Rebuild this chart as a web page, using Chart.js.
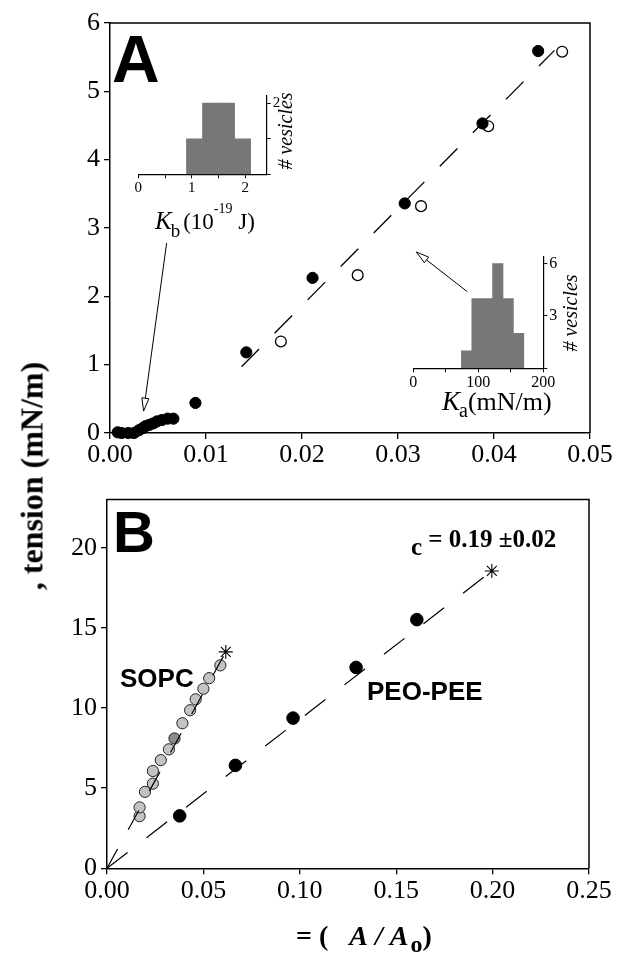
<!DOCTYPE html>
<html>
<head>
<meta charset="utf-8">
<script src="https://cdn.jsdelivr.net/npm/chart.js@4.4.1/dist/chart.umd.min.js"></script>
<style>
	html, body { margin: 0; padding: 0; background: #fff; }
	#page { position: relative; width: 621px; height: 957px; overflow: hidden; background: #fff; }
	canvas { position: absolute; }
	#yTitle {
		position: absolute; left: 32px; top: 476px;
		transform: translate(-50%, -50%) rotate(-90deg);
		font: bold 32px 'Liberation Serif', serif; white-space: nowrap; color: #000;
	}
</style>
</head>
<body>
<div id="page">
	<canvas id="chartA" width="621" height="480" style="left:0;top:0"></canvas>
	<canvas id="chartB" width="621" height="477" style="left:0;top:480px"></canvas>
	<canvas id="insetKb" width="180" height="115" style="left:120px;top:85px"></canvas>
	<canvas id="insetKa" width="180" height="160" style="left:400px;top:245px"></canvas>
	<div id="yTitle">, tension (mN/m)</div>
</div>
<script>
/* -------------------------------------------------------------
 * DATA
 * ------------------------------------------------------------- */

// panel A : PEO-PEE vesicle, filled / open runs
const aFilledX = [0.0089, 0.0142, 0.0211, 0.0307, 0.0388, 0.0446];
const aFilledY = [0.44, 1.18, 2.27, 3.36, 4.53, 5.59];
const aOpenX = [0.0178, 0.0258, 0.0324, 0.0394, 0.0471];
const aOpenY = [1.34, 2.31, 3.32, 4.49, 5.58];
// low tension (bending) regime
const aLowX = [0.0008, 0.0012, 0.0019, 0.0025, 0.0030, 0.0034, 0.0037, 0.0041, 0.0045, 0.0049, 0.0054, 0.0060, 0.0066];
const aLowY = [0.01, 0.0, 0.0, 0.0, 0.04, 0.07, 0.10, 0.12, 0.14, 0.17, 0.19, 0.21, 0.21];
// dashed fit
const aFitX = [0.0137, 0.0463];
const aFitY = [0.97, 5.6];
// arrows (from, to)
const arrowKbX = [0.0059, 0.0035];
const arrowKbY = [2.78, 0.32];
const arrowKaX = [0.0372, 0.0319];
const arrowKaY = [2.07, 2.65];

// insets : histograms
const kbBins = [1.05, 1.35, 1.65, 1.95];
const kbCounts = [1, 2, 2, 1];
const kaBins = [82, 98, 114, 130, 146, 162];
const kaCounts = [1, 4, 4, 6, 4, 2];

// panel B
const bSopcX = [0.0169, 0.0169, 0.0197, 0.0238, 0.0238, 0.0279, 0.0321, 0.0350, 0.0391, 0.0431, 0.0460, 0.0500, 0.0530, 0.0588];
const bSopcY = [3.25, 3.80, 4.77, 5.28, 6.07, 6.75, 7.42, 8.10, 9.05, 9.86, 10.54, 11.20, 11.86, 12.66];
const bPeoX = [0.0377, 0.0666, 0.0965, 0.1292, 0.1607];
const bPeoY = [3.27, 6.42, 9.37, 12.53, 15.51];
const bStarX = [0.0616, 0.1996];
const bStarY = [13.5, 18.55];
const bSopcFitX = [0, 0.0616];
const bSopcFitY = [0, 13.5];
const bPeoFitX = [0, 0.1996];
const bPeoFitY = [0, 18.55];

/* -------------------------------------------------------------
 * HELPERS
 * ------------------------------------------------------------- */

const SERIF = "'Liberation Serif', 'Times New Roman', serif";
const SANS = "'Liberation Sans', Arial, sans-serif";
Chart.defaults.font.family = SERIF;
Chart.defaults.color = '#000';

const xy = (xs, ys) => xs.map((x, i) => ({ x, y: ys[i] }));

function richText(ctx, x, y, parts) {
	ctx.textAlign = 'left';
	ctx.textBaseline = 'alphabetic';
	parts.forEach(p => {
		ctx.font = p.font;
		x += p.dx || 0;
		ctx.fillText(p.text, x, y + (p.dy || 0));
		x += ctx.measureText(p.text).width;
	});
}

function vText(ctx, text, cx, cy, font) {
	ctx.save();
	ctx.translate(cx, cy);
	ctx.rotate(-Math.PI / 2);
	ctx.font = font;
	ctx.textAlign = 'center';
	ctx.textBaseline = 'middle';
	ctx.fillText(text, 0, 0);
	ctx.restore();
}

function drawArrow(ctx, sx, sy, ex, ey, len, half) {
	const ang = Math.atan2(ey - sy, ex - sx);
	const bx = ex - len * Math.cos(ang);
	const by = ey - len * Math.sin(ang);
	ctx.beginPath();
	ctx.moveTo(sx, sy);
	ctx.lineTo(bx, by);
	ctx.stroke();
	ctx.beginPath();
	ctx.moveTo(ex, ey);
	ctx.lineTo(bx + half * Math.sin(ang), by - half * Math.cos(ang));
	ctx.lineTo(bx - half * Math.sin(ang), by + half * Math.cos(ang));
	ctx.closePath();
	ctx.fillStyle = '#fff';
	ctx.fill();
	ctx.stroke();
}

function frame(ctx, area) {
	ctx.save();
	ctx.strokeStyle = '#000';
	ctx.lineWidth = 1.5;
	ctx.beginPath();
	ctx.moveTo(area.left, area.top);
	ctx.lineTo(area.right, area.top);
	ctx.lineTo(area.right, area.bottom);
	ctx.stroke();
	ctx.restore();
}

function mainAxes(min, max, step, fmt, fixedSize, horizontal) {
	return {
		type: 'linear', min, max,
		afterFit: s => { if (horizontal) s.height = fixedSize; else s.width = fixedSize; },
		ticks: {
			stepSize: step, includeBounds: false, autoSkip: false, maxRotation: 0,
			callback: fmt, color: '#000',
			font: { family: SERIF, size: 26 },
			padding: horizontal ? 1 : 4
		},
		grid: { drawOnChartArea: false, drawTicks: true, tickLength: 6, color: '#000', lineWidth: 1.3 },
		border: { display: true, color: '#000', width: 1.5 }
	};
}

/* -------------------------------------------------------------
 * PANEL A
 * ------------------------------------------------------------- */

const panelA = {
	id: 'panelA',
	afterDraw(chart) {
		const { ctx, chartArea, scales } = chart;
		frame(ctx, chartArea);
		ctx.save();
		ctx.fillStyle = '#000';
		ctx.font = 'bold 66px ' + SANS;
		ctx.textAlign = 'left';
		ctx.fillText('A', 112, 82);

		// arrows to the two regimes
		ctx.strokeStyle = '#000';
		ctx.lineWidth = 1;
		drawArrow(ctx,
			scales.x.getPixelForValue(arrowKbX[0]), scales.y.getPixelForValue(arrowKbY[0]),
			scales.x.getPixelForValue(arrowKbX[1]), scales.y.getPixelForValue(arrowKbY[1]), 13, 3.5);
		drawArrow(ctx,
			scales.x.getPixelForValue(arrowKaX[0]), scales.y.getPixelForValue(arrowKaY[0]),
			scales.x.getPixelForValue(arrowKaX[1]), scales.y.getPixelForValue(arrowKaY[1]), 13, 3.5);

		// inset captions
		ctx.fillStyle = '#000';
		richText(ctx, 155, 229, [
			{ text: 'K', font: 'italic 25px ' + SERIF },
			{ text: 'b', font: '19px ' + SERIF, dy: 8, dx: -1 },
			{ text: '(10', font: '23px ' + SERIF, dx: 3 },
			{ text: '-19', font: '14px ' + SERIF, dy: -16 },
			{ text: ' J)', font: '23px ' + SERIF }
		]);
		richText(ctx, 442, 410, [
			{ text: 'K', font: 'italic 27px ' + SERIF },
			{ text: 'a', font: '20px ' + SERIF, dy: 7, dx: -1 },
			{ text: '(mN/m)', font: '26px ' + SERIF }
		]);
		vText(ctx, '# vesicles', 287, 131, 'italic 20px ' + SERIF);
		vText(ctx, '# vesicles', 572, 313, 'italic 20px ' + SERIF);
		ctx.restore();
	}
};

new Chart(document.getElementById('chartA'), {
	type: 'scatter',
	data: {
		datasets: [
			{
				type: 'line', data: xy(aFitX, aFitY), borderColor: '#000', borderWidth: 1.3,
				borderDash: [25, 22], pointRadius: 0, fill: false, order: 0
			},
			{
				data: xy(aFilledX, aFilledY).concat(xy(aLowX, aLowY)),
				backgroundColor: '#000', borderColor: '#000', borderWidth: 1,
				pointRadius: 5.6, clip: false, order: 1
			},
			{
				data: xy(aOpenX, aOpenY), backgroundColor: '#fff', borderColor: '#000',
				borderWidth: 1.3, pointRadius: 5.4, clip: false, order: 1
			}
		]
	},
	options: {
		responsive: false, animation: false, events: [],
		layout: { padding: { top: 23, right: 31, left: 0, bottom: 0 } },
		plugins: { legend: { display: false }, tooltip: { enabled: false } },
		scales: {
			x: mainAxes(0, 0.05, 0.01, v => v.toFixed(2), 47, true),
			y: mainAxes(0, 6, 1, v => String(v), 110, false)
		}
	},
	plugins: [panelA]
});

/* -------------------------------------------------------------
 * INSETS (histograms)
 * ------------------------------------------------------------- */

function inset(id, bins, counts, xMax, xStep, xLabel, yMax, yStep, yLabel, pad, xH, yW, fs) {
	return new Chart(document.getElementById(id), {
		type: 'bar',
		data: {
			datasets: [{
				data: xy(bins, counts), backgroundColor: '#777', borderWidth: 0,
				barPercentage: 1, categoryPercentage: 1
			}]
		},
		options: {
			responsive: false, animation: false, events: [],
			layout: { padding: pad },
			plugins: { legend: { display: false }, tooltip: { enabled: false } },
			scales: {
				x: {
					type: 'linear', min: 0, max: xMax, offset: false,
					afterFit: s => { s.height = xH; },
					ticks: { stepSize: xStep, includeBounds: false, autoSkip: false, maxRotation: 0, callback: xLabel, font: { family: SERIF, size: fs }, padding: 1 },
					grid: { offset: false, drawOnChartArea: false, tickLength: 4, color: '#000', lineWidth: 1 },
					border: { color: '#000', width: 1.2 }
				},
				y: {
					position: 'right', min: 0, max: yMax,
					afterFit: s => { s.width = yW; },
					ticks: { stepSize: yStep, includeBounds: false, callback: yLabel, font: { family: SERIF, size: fs }, padding: 2 },
					grid: { drawOnChartArea: false, tickLength: 4, color: '#000', lineWidth: 1 },
					border: { color: '#000', width: 1.2 }
				}
			}
		}
	});
}

inset('insetKb', kbBins, kbCounts, 2.4, 0.5, v => (v % 1 === 0 ? String(v) : ''),
	2.2, 1, v => (v === 2 ? '2' : ''), { left: 18.3, top: 6.7, right: 0, bottom: 0 }, 25.7, 33.3, 15);

inset('insetKa', kaBins, kaCounts, 200, 50, v => (v % 100 === 0 ? String(v) : ''),
	6.4, 3, v => (v === 0 ? '' : String(v)), { left: 13.3, top: 10, right: 0, bottom: 0 }, 36.7, 36.7, 16);

/* -------------------------------------------------------------
 * PANEL B
 * ------------------------------------------------------------- */

const sopcDarkIndex = 7;

const panelB = {
	id: 'panelB',
	afterDraw(chart) {
		const { ctx, chartArea } = chart;
		frame(ctx, chartArea);
		ctx.save();
		ctx.fillStyle = '#000';
		ctx.font = 'bold 58px ' + SANS;
		ctx.textAlign = 'left';
		ctx.fillText('B', 113, 72);
		ctx.font = 'bold 26px ' + SANS;
		ctx.fillText('SOPC', 120, 207);
		ctx.fillText('PEO-PEE', 367, 220);
		richText(ctx, 411, 67, [
			{ text: 'c', font: 'bold 25px ' + SERIF, dy: 8 },
			{ text: ' = 0.19 ±0.02', font: 'bold 25px ' + SERIF }
		]);
		richText(ctx, 296, 465, [
			{ text: '= (', font: 'bold 28px ' + SERIF },
			{ text: 'A / A', font: 'italic bold 28px ' + SERIF, dx: 21 },
			{ text: 'o', font: 'bold 24px ' + SERIF, dy: 7, dx: 2 },
			{ text: ')', font: 'bold 28px ' + SERIF }
		]);
		ctx.restore();
	}
};

new Chart(document.getElementById('chartB'), {
	type: 'scatter',
	data: {
		datasets: [
			{
				type: 'line', data: xy(bSopcFitX, bSopcFitY), borderColor: '#000', borderWidth: 1.2,
				borderDash: [22, 22], pointRadius: 0, fill: false, order: 0
			},
			{
				type: 'line', data: xy(bPeoFitX, bPeoFitY), borderColor: '#000', borderWidth: 1.2,
				borderDash: [26, 24], pointRadius: 0, fill: false, order: 0
			},
			{
				data: xy(bSopcX, bSopcY),
				backgroundColor: bSopcX.map((_, i) => (i === sopcDarkIndex ? '#8c8c8c' : '#c3c3c3')),
				borderColor: '#222', borderWidth: 1, pointRadius: 5.6, order: 1
			},
			{
				data: xy(bPeoX, bPeoY), backgroundColor: '#000', borderColor: '#000',
				pointRadius: 6.3, order: 1
			},
			{
				data: xy(bStarX, bStarY), pointStyle: 'star', borderColor: '#000', backgroundColor: '#000',
				borderWidth: 1.1, pointRadius: 7, order: 0
			}
		]
	},
	options: {
		responsive: false, animation: false, events: [],
		layout: { padding: { top: 15, right: 32, left: 0, bottom: 0 } },
		plugins: { legend: { display: false }, tooltip: { enabled: false } },
		scales: {
			x: mainAxes(0, 0.25, 0.05, v => v.toFixed(2), 88.7, true),
			y: mainAxes(0, 23, 5, v => String(v), 107, false)
		}
	},
	plugins: [panelB]
});
</script>
</body>
</html>
